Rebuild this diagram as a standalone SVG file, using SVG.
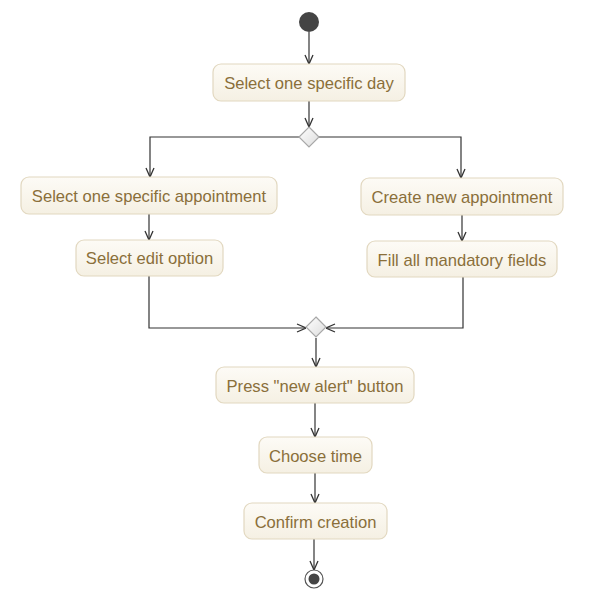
<svg xmlns="http://www.w3.org/2000/svg" width="594" height="610" viewBox="0 0 594 610">
<defs>
<linearGradient id="boxg" x1="0" y1="0" x2="0" y2="1">
<stop offset="0" stop-color="#fdfbf6"/>
<stop offset="1" stop-color="#f5f0e3"/>
</linearGradient>
<linearGradient id="diag" x1="0" y1="0" x2="1" y2="1">
<stop offset="0" stop-color="#ffffff"/>
<stop offset="1" stop-color="#dcdcdc"/>
</linearGradient>
<marker id="arr" viewBox="0 0 10 10" refX="10" refY="5" markerWidth="10" markerHeight="10" markerUnits="userSpaceOnUse" orient="auto">
<path d="M1,1 L10,5 L1,9" fill="none" stroke="#333" stroke-width="1.3"/>
</marker>
</defs>
<style>
.box{fill:url(#boxg);stroke:#e2d8c0;stroke-width:1.2}
.lbl{font-family:"Liberation Sans",Arial,sans-serif;font-size:16.6px;fill:#8a6f3a;text-anchor:middle}
.ln{fill:none;stroke:#333;stroke-width:1.2}
.dia{fill:url(#diag);stroke:#a8a8a8;stroke-width:1.2}
</style>
<rect width="594" height="610" fill="#ffffff"/>
<g id="connectors">
<path class="ln" d="M309,32 V64" marker-end="url(#arr)"/>
<path class="ln" d="M309,101 V127" marker-end="url(#arr)"/>
<path class="ln" d="M299,137 H150 V177" marker-end="url(#arr)"/>
<path class="ln" d="M319,137 H461 V178" marker-end="url(#arr)"/>
<path class="ln" d="M149,214 V240" marker-end="url(#arr)"/>
<path class="ln" d="M462,215 V241" marker-end="url(#arr)"/>
<path class="ln" d="M149,276 V328 H306" marker-end="url(#arr)"/>
<path class="ln" d="M463,277 V328 H326" marker-end="url(#arr)"/>
<path class="ln" d="M316,338 V367" marker-end="url(#arr)"/>
<path class="ln" d="M315,403 V437" marker-end="url(#arr)"/>
<path class="ln" d="M315,473 V503" marker-end="url(#arr)"/>
<path class="ln" d="M314,539 V570" marker-end="url(#arr)"/>
</g>
<g id="start"><circle cx="309" cy="22" r="10" fill="#444"/></g>
<g id="n1"><rect class="box" x="213" y="64" width="192" height="37" rx="8"/><text class="lbl" x="309" y="88.5">Select one specific day</text></g>
<g id="d1"><path class="dia" d="M309,127 L319,137 L309,147 L299,137 Z"/></g>
<g id="n2"><rect class="box" x="21" y="177" width="256" height="37" rx="8"/><text class="lbl" x="149" y="201.5">Select one specific appointment</text></g>
<g id="n3"><rect class="box" x="76" y="240" width="147" height="36" rx="8"/><text class="lbl" x="149.5" y="263.5">Select edit option</text></g>
<g id="n4"><rect class="box" x="361" y="178" width="202" height="37" rx="8"/><text class="lbl" x="462" y="202.5">Create new appointment</text></g>
<g id="n5"><rect class="box" x="367" y="241" width="190" height="36" rx="8"/><text class="lbl" x="462" y="265.5">Fill all mandatory fields</text></g>
<g id="d2"><path class="dia" d="M316,317 L326,327 L316,337 L306,327 Z"/></g>
<g id="n6"><rect class="box" x="216" y="367" width="198" height="36" rx="8"/><text class="lbl" x="315" y="391.5">Press "new alert" button</text></g>
<g id="n7"><rect class="box" x="259" y="437" width="113" height="36" rx="8"/><text class="lbl" x="315.5" y="461.5">Choose time</text></g>
<g id="n8"><rect class="box" x="244" y="503" width="143" height="36" rx="8"/><text class="lbl" x="315.5" y="527.5">Confirm creation</text></g>
<g id="end"><circle cx="314" cy="579" r="9" fill="#fff" stroke="#555" stroke-width="1.2"/><circle cx="314" cy="579" r="5.5" fill="#444"/></g>
</svg>
